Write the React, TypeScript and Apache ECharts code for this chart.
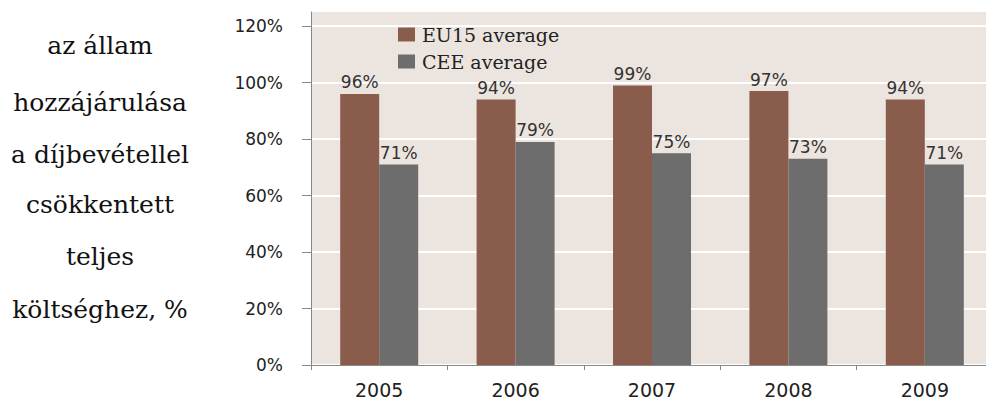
import React, { useEffect, useRef } from "react";
import * as echarts from "echarts";

const categories = ["2005", "2006", "2007", "2008", "2009"];
const eu15 = [96, 94, 99, 97, 94];
const cee = [71, 79, 75, 73, 71];
const yTicks = [0, 20, 40, 60, 80, 100, 120];
const seriesNames = ["EU15 average", "CEE average"];
const sideLines = [
  "az állam",
  "hozzájárulása",
  "a díjbevétellel",
  "csökkentett",
  "teljes",
  "költséghez, %",
];
const sideLineY = [45, 102, 154, 204, 256, 309];

export default function App() {
  const ref = useRef<HTMLDivElement>(null);
  useEffect(() => {
    if (!ref.current) return;
    const chart = echarts.init(ref.current, null, { renderer: "svg" });
    const labelStyle = {
      show: true,
      position: "top",
      formatter: "{c}%",
      color: "#333",
      fontSize: 17,
      fontFamily: "DejaVu Sans",
      distance: 3,
    };
    chart.setOption({
      animation: false,
      backgroundColor: "#ffffff",
      grid: {
        left: 311,
        right: 0,
        top: 12,
        bottom: 33,
        show: true,
        backgroundColor: "#ece4df",
        borderWidth: 0,
      },
      legend: {
        orient: "vertical",
        left: 393,
        top: 20,
        itemWidth: 17,
        itemHeight: 14,
        itemGap: 8,
        icon: "rect",
        data: seriesNames,
        textStyle: {
          fontFamily: "DejaVu Serif",
          fontSize: 19,
          color: "#222",
          padding: [0, 0, 0, 2],
        },
      },
      graphic: sideLines.map((t, i) => ({
        type: "text",
        x: 100,
        y: sideLineY[i],
        style: {
          text: t,
          textAlign: "center",
          textVerticalAlign: "middle",
          fontFamily: "DejaVu Serif",
          fontSize: 25,
          fill: "#111",
        },
      })),
      xAxis: {
        type: "category",
        data: categories,
        axisLine: { show: true, lineStyle: { color: "#888", width: 1 } },
        axisTick: { show: true, length: 5, lineStyle: { color: "#888" } },
        axisLabel: {
          color: "#222",
          fontSize: 19,
          fontFamily: "DejaVu Sans",
          margin: 15,
        },
        splitLine: { show: false },
      },
      yAxis: {
        type: "value",
        min: 0,
        max: 125,
        axisLine: { show: true, lineStyle: { color: "#888", width: 1 } },
        axisTick: {
          show: true,
          length: 9,
          lineStyle: { color: "#888" },
          customValues: yTicks,
        },
        axisLabel: {
          color: "#222",
          fontSize: 17,
          fontFamily: "DejaVu Sans",
          margin: 28,
          formatter: "{value}%",
          customValues: yTicks,
        },
        splitLine: { show: true, lineStyle: { color: "#ffffff", width: 2 } },
      },
      series: [
        {
          name: seriesNames[0],
          type: "bar",
          data: eu15,
          barWidth: 39,
          barGap: "0%",
          itemStyle: { color: "#8a5c4c" },
          label: labelStyle,
        },
        {
          name: seriesNames[1],
          type: "bar",
          data: cee,
          barWidth: 39,
          itemStyle: { color: "#6d6d6d" },
          label: labelStyle,
        },
      ],
    });
    return () => chart.dispose();
  }, []);
  return (
    <div
      style={{
        position: "fixed",
        left: 0,
        top: 0,
        width: 986,
        height: 399,
        overflow: "hidden",
      }}
    >
      <div ref={ref} style={{ width: 993, height: 399 }} />
    </div>
  );
}
